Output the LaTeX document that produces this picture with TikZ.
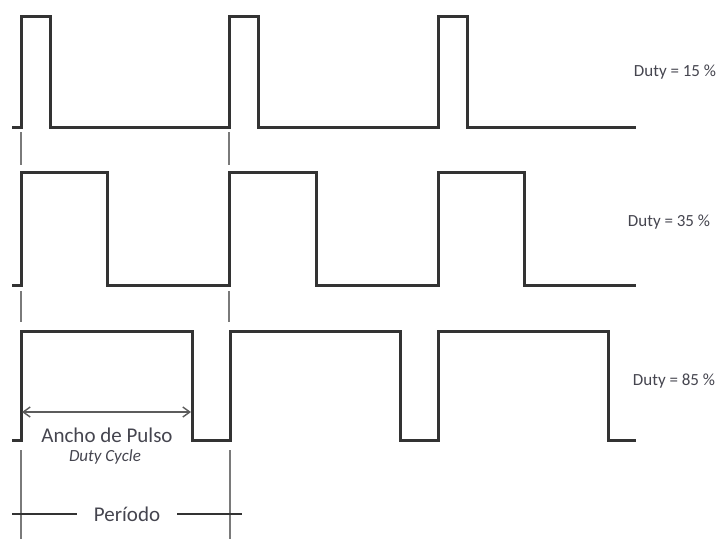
\documentclass[tikz,border=0pt]{standalone}
\usepackage{fontspec}
\setmainfont{Carlito}
\usetikzlibrary{arrows.meta}
\definecolor{wavegray}{HTML}{333333}
\definecolor{guidegray}{HTML}{7A7A7A}
\definecolor{labelgray}{HTML}{45454F}
\begin{document}
\begin{tikzpicture}[x=1pt, y=-1pt,
  wave/.style={draw=wavegray, line width=3pt, line join=miter},
  guide/.style={draw=guidegray, line width=1.4pt},
  dim/.style={draw=wavegray!80, line width=1.4pt},
  duty/.style={text=labelgray, font=\fontsize{17}{19}\selectfont, inner sep=0pt},
  lbl/.style={text=labelgray, font=\fontsize{21}{23}\selectfont, inner sep=0pt}
]
\useasboundingbox (0,0) rectangle (722,539);

% duty 15 %
\draw[wave] (12,127) -- (21,127) -- (21,16) -- (50,16) -- (50,127) -- (229,127)
  -- (229,16) -- (258,16) -- (258,127) -- (438,127) -- (438,16) -- (467,16)
  -- (467,127) -- (636,127);
% duty 35 %
\draw[wave] (12,285) -- (21,285) -- (21,172) -- (107,172) -- (107,285) -- (229,285)
  -- (229,172) -- (316,172) -- (316,285) -- (438,285) -- (438,172) -- (524,172)
  -- (524,285) -- (636,285);
% duty 85 %
\draw[wave] (12,440) -- (21,440) -- (21,331) -- (192,331) -- (192,440) -- (230,440)
  -- (230,331) -- (400,331) -- (400,440) -- (438,440) -- (438,331) -- (608,331)
  -- (608,440) -- (636,440);

% period guides
\draw[guide] (21,132) -- (21,165);
\draw[guide] (229,132) -- (229,165);
\draw[guide] (21,291) -- (21,322);
\draw[guide] (229,291) -- (229,322);
\draw[guide] (21,450) -- (21,539);
\draw[guide] (230,450) -- (230,539);

\node[duty] (d15) at (675,72) {Duty = 15 \%};
\node[duty] (d35) at (669,222) {Duty = 35 \%};
\node[duty] (d85) at (674,381) {Duty = 85 \%};

% pulse width
\coordinate (pw-l) at (22,412);
\coordinate (pw-r) at (191,412);
\draw[dim, {Straight Barb[length=7pt, width=10pt]}-{Straight Barb[length=7pt, width=10pt]}] (pw-l) -- (pw-r);
\node[lbl] (ancho) at (107,435) {Ancho de Pulso};
\node[lbl, font=\fontsize{17}{19}\selectfont\itshape] (cycle) at (105,457) {Duty Cycle};

% period
\coordinate (per-l) at (12,514);
\coordinate (per-r) at (242,514);
\node[lbl, inner xsep=17pt] (periodo) at (127,514) {Período};
\draw[guide, draw=wavegray] (per-l) -- (periodo.west);
\draw[guide, draw=wavegray] (periodo.east) -- (per-r);
\end{tikzpicture}
\end{document}
